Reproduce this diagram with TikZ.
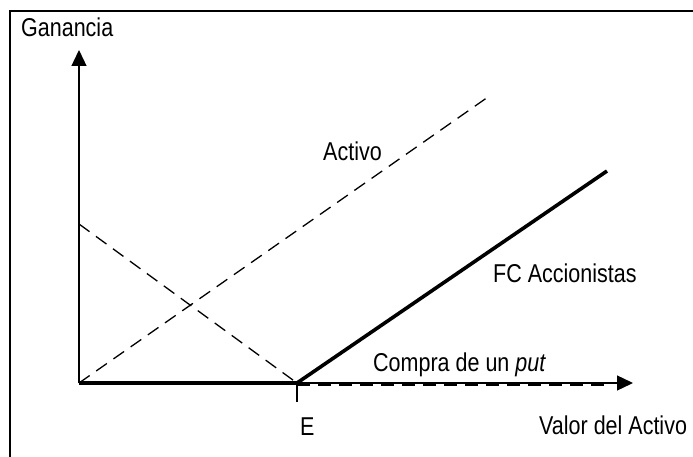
\documentclass[tikz,border=0pt]{standalone}
\usepackage{fontspec}
\setmainfont{Liberation Sans}
\usetikzlibrary{arrows.meta}
\newcommand{\stretchtxt}[1]{\scalebox{1}[1.2]{#1}}

\begin{document}
\begin{tikzpicture}[x=1pt,y=1pt,
  lbl/.style={anchor=base west,inner sep=0pt,font=\fontsize{21.5}{26}\selectfont},
  axis/.style={line width=1.3pt,-{Triangle[length=16pt,width=15pt]}},
  payoff/.style={line width=3.6pt},
  guide/.style={line width=1.3pt,dash pattern=on 13pt off 8pt}]
% Parameters
\def\xzero{79} \def\yzero{73}
\def\xE{297} \def\xmax{633} \def\ymax{406}

\useasboundingbox (0,0) rectangle (693,456);

% Frame
\draw[line width=2pt] (10,-20) rectangle (720,445);

% Points
\coordinate (O) at (\xzero,\yzero);
\coordinate (Ytop) at (\xzero,\ymax);
\coordinate (Xend) at (\xmax,\yzero);
\coordinate (E) at (\xE,\yzero);
\coordinate (Aend) at (488,359);
\coordinate (Send) at (607,285);
\coordinate (Pstart) at (\xzero,232);
\coordinate (Pend) at (609,\yzero-2);

% Axes
\draw[axis] (O) -- (Ytop);
\draw[axis] (O) -- (Xend);
\draw[line width=1.3pt] ([yshift=2pt]E) -- ([yshift=-19pt]E);

% Dashed lines
\draw[guide] (O) -- (Aend);
\draw[guide] (Pstart) -- (E);
\draw[guide] ([yshift=-2pt]E) -- (Pend);

% Payoff
\draw[payoff] (O) -- (E) -- (Send);

% Labels
\node[lbl] (ganancia) at (21,419) {\stretchtxt{Ganancia}};
\node[lbl] (activo) at (323,296) {\stretchtxt{Activo}};
\node[lbl] (fcacc) at (493,174) {\stretchtxt{FC Accionistas}};
\node[lbl] (put) at (373,85) {\stretchtxt{Compra de un \textit{put}}};
\node[lbl] (elbl) at (300,21) {\stretchtxt{E}};
\node[lbl] (valor) at (539,22) {\stretchtxt{Valor del Activo}};
\end{tikzpicture}
\end{document}
